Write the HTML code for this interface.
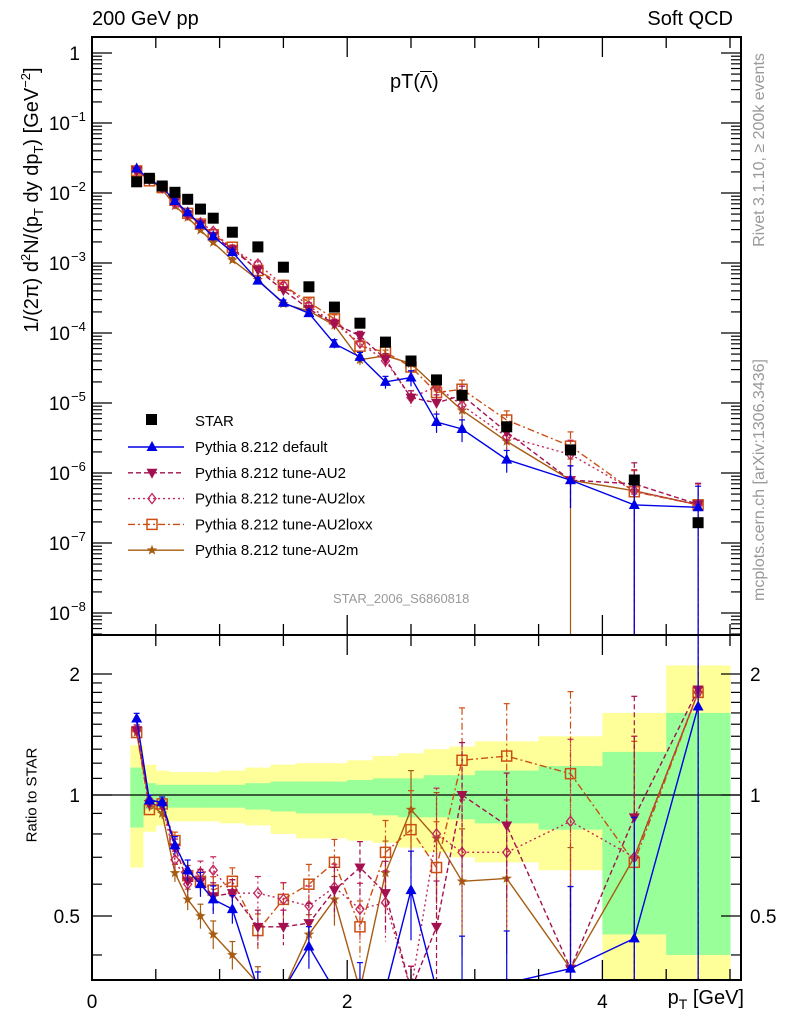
<!DOCTYPE html>
<html><head><meta charset="utf-8"><style>
html,body{margin:0;padding:0;background:#fff;width:786px;height:1024px;overflow:hidden;position:relative;}
svg{display:block;font-family:"Liberation Sans",sans-serif;}
</style></head><body>
<svg id="c" width="786" height="1024" viewBox="0 0 786 1024"></svg>
<script>
const pts=[0.35,0.45,0.55,0.65,0.75,0.85,0.95,1.1,1.3,1.5,1.7,1.9,2.1,2.3,2.5,2.7,2.9,3.25,3.75,4.25,4.75];
const edges=[0.3,0.4,0.5,0.6,0.7,0.8,0.9,1.0,1.2,1.4,1.6,1.8,2.0,2.2,2.4,2.6,2.8,3.0,3.5,4.0,4.5,5.0];
const starLog=[-1.84,-1.79,-1.90,-1.99,-2.09,-2.23,-2.36,-2.56,-2.77,-3.06,-3.34,-3.63,-3.86,-4.13,-4.40,-4.67,-4.89,-5.34,-5.67,-6.10,-6.71];
const rDefault=[1.55,0.97,0.96,0.75,0.65,0.60,0.55,0.52,0.33,0.31,0.42,0.30,0.33,0.27,0.58,0.25,0.33,0.34,0.37,0.44,1.66];
const rAU2=[1.45,0.95,0.94,0.74,0.61,0.61,0.56,0.57,0.47,0.47,0.48,0.58,0.66,0.57,0.30,0.47,1.0,0.84,0.37,0.88,1.83];
const rAU2lox=[1.45,0.97,0.95,0.69,0.60,0.64,0.65,0.57,0.57,0.55,0.53,0.59,0.52,0.54,0.30,0.80,0.72,0.72,0.86,0.70,1.80];
const rAU2loxx=[1.43,0.92,0.95,0.77,0.63,0.61,0.58,0.61,0.46,0.55,0.60,0.68,0.47,0.72,0.82,0.66,1.22,1.25,1.13,0.68,1.80];
const rAU2m=[1.43,0.95,0.90,0.64,0.55,0.50,0.45,0.40,0.34,0.30,0.45,0.55,0.30,0.64,0.92,0.78,0.61,0.62,0.37,0.70,1.80];
const errFrac=[0.03,0.03,0.03,0.05,0.06,0.07,0.08,0.08,0.1,0.1,0.12,0.14,0.16,0.2,0.25,0.3,0.35,0.35,0.6,1,1];
const errAU2m=[0.03,0.03,0.03,0.05,0.06,0.07,0.08,0.08,0.1,0.1,0.12,0.14,0.16,0.2,0.25,0.3,0.35,0.35,1,1,1];
const gUp=[1.17,1.07,1.06,1.06,1.06,1.06,1.06,1.06,1.07,1.08,1.08,1.08,1.09,1.1,1.1,1.12,1.12,1.15,1.18,1.28,1.6];
const gLo=[0.83,0.92,0.93,0.93,0.93,0.93,0.93,0.93,0.92,0.91,0.9,0.9,0.9,0.89,0.88,0.88,0.87,0.85,0.82,0.45,0.4];
const yUp=[1.33,1.19,1.15,1.14,1.14,1.14,1.14,1.15,1.17,1.19,1.2,1.2,1.22,1.25,1.27,1.3,1.32,1.36,1.4,1.6,2.1];
const yLo=[0.66,0.81,0.84,0.86,0.86,0.86,0.86,0.85,0.84,0.8,0.78,0.78,0.77,0.76,0.74,0.72,0.7,0.68,0.65,0.3,0.3];
const xTicks=[0,2,4];
const yTopTicks=[0,-1,-2,-3,-4,-5,-6,-7,-8];
const yRatioTicks=[0.5,1,2];

const L=92,R=741,T=37,M=635,B=980;
const X=v=>L+v*127.6;
const YT=e=>53-70*e;
const YR=r=>795-402*Math.log10(r);
const clampY=(y,a,b)=>Math.max(a,Math.min(b,y));
const NS="http://www.w3.org/2000/svg";
const svg=document.getElementById('c');
function el(tag,attrs,parent){const e=document.createElementNS(NS,tag);for(const k in attrs)e.setAttribute(k,attrs[k]);(parent||svg).appendChild(e);return e;}
function txt(s,x,y,size,anchor,fill,parent){const t=el('text',{x:x,y:y,'font-size':size,'text-anchor':anchor||'start',fill:fill||'#000'},parent);t.textContent=s;return t;}

const defs=el('defs',{});
const c1=el('clipPath',{id:'ct'},defs);el('rect',{x:L,y:T,width:R-L,height:M-T},c1);
const c2=el('clipPath',{id:'cb'},defs);el('rect',{x:L,y:M,width:R-L,height:B-M},c2);

const bands=el('g',{'clip-path':'url(#cb)'});


for(let i=0;i<gUp.length;i++){
  const y1=clampY(YR(yUp[i]),M,B),y2=clampY(YR(yLo[i]),M,B);
  const r=el('rect',{x:X(edges[i]),y:y1,width:X(edges[i+1])-X(edges[i])+0.5,height:y2-y1,fill:'#ffff99'},bands);
  
  
}
for(let i=0;i<gUp.length;i++){
  const y1=clampY(YR(gUp[i]),M,B),y2=clampY(YR(gLo[i]),M,B);
  const r=el('rect',{x:X(edges[i]),y:y1,width:X(edges[i+1])-X(edges[i])+0.5,height:y2-y1,fill:'#99ff99'},bands);
  
  
}
el('line',{x1:L,y1:YR(1),x2:R,y2:YR(1),stroke:'#000','stroke-width':1.2});

const series=[
 {name:'default',r:rDefault,err:errFrac,color:'#0000e6',dash:'',mk:'tri'},
 {name:'au2',r:rAU2,err:errFrac,color:'#a3104f',dash:'5,3',mk:'itri'},
 {name:'au2lox',r:rAU2lox,err:errFrac,color:'#c4275c',dash:'2,3',mk:'dia'},
 {name:'au2loxx',r:rAU2loxx,err:errFrac,color:'#cc5014',dash:'7,3,2,3',mk:'sq'},
 {name:'au2m',r:rAU2m,err:errAU2m,color:'#a65c12',dash:'',mk:'star'}
];
function marker(g,mk,x,y,c){
  let m;
  if(mk==='tri')m=el('polygon',{points:`${x},${y-6} ${x-5.5},${y+4} ${x+5.5},${y+4}`,fill:c},g);
  else if(mk==='itri')m=el('polygon',{points:`${x},${y+6} ${x-5.5},${y-4} ${x+5.5},${y-4}`,fill:c},g);
  else if(mk==='dia')m=el('polygon',{points:`${x},${y-5} ${x-4},${y} ${x},${y+5} ${x+4},${y}`,fill:'none',stroke:c,'stroke-width':1.3},g);
  else if(mk==='sq')m=el('rect',{x:x-5,y:y-5,width:10,height:10,fill:'none',stroke:c,'stroke-width':1.5},g);
  else {let p='';for(let k=0;k<10;k++){const a=-Math.PI/2+k*Math.PI/5,rr=k%2?2.3:5.5;p+=`${x+rr*Math.cos(a)},${y+rr*Math.sin(a)} `;}m=el('polygon',{points:p,fill:c},g);}
  return m;
}
function drawSeries(s,panel){
  const g=el('g',{'clip-path':panel==='top'?'url(#ct)':'url(#cb)'});
  
  
  const ys=[],lo=[],hi=[];
  const top=panel==='top'?T:M,bot=panel==='top'?M:B;
  for(let i=0;i<pts.length;i++){
    const r=s.r[i],f=s.err[i];
    let y,yh,yl;
    if(panel==='top'){
      const v=starLog[i]+Math.log10(r);
      y=YT(v);yh=YT(v+Math.log10(1+f));
      yl=f>=0.99?bot+3:YT(v+Math.log10(1-f));
    }else{
      y=YR(r);yh=YR(r*(1+f));
      yl=f>=0.99?bot+3:YR(r*(1-f));
    }
    ys.push(clampY(y,top-10,bot+10));
    hi.push(clampY(yh,top-3,bot+3));
    lo.push(clampY(yl,top-3,bot+3));
  }
  let d='';pts.forEach((p,i)=>{d+=(i?'L':'M')+X(p)+','+ys[i];});
  el('path',{d:d,fill:'none',stroke:s.color,'stroke-width':1.4,'stroke-dasharray':s.dash},g);
  pts.forEach((p,i)=>{
    const x=X(p);
    el('line',{x1:x,y1:hi[i],x2:x,y2:lo[i],stroke:s.color,'stroke-width':1.2,'stroke-dasharray':s.dash},g);
    el('line',{x1:x-3,y1:hi[i],x2:x+3,y2:hi[i],stroke:s.color,'stroke-width':1.2},g);
    const m=marker(g,s.mk,x,ys[i],s.color);
    
    
  });
}
series.slice().reverse().forEach(s=>{drawSeries(s,'top');drawSeries(s,'bottom');});

const sg=el('g',{'clip-path':'url(#ct)'});


pts.forEach((p,i)=>{
  const m=el('rect',{x:X(p)-5.5,y:YT(starLog[i])-5.5,width:11,height:11,fill:'#000'},sg);
  
  
});

el('rect',{x:L,y:T,width:R-L,height:M-T,fill:'none',stroke:'#000','stroke-width':2});
el('rect',{x:L,y:M,width:R-L,height:B-M,fill:'none',stroke:'#000','stroke-width':2});

for(let v=0;v<=5.01;v+=0.5){
  const major=xTicks.some(t=>Math.abs(t-v)<1e-6);const len=major?20:11;const x=X(v);
  [[T,1],[M,-1],[M,1],[B,-1]].forEach(([y,s])=>el('line',{x1:x,y1:y,x2:x,y2:y+s*len,stroke:'#000','stroke-width':1.3}));
}
xTicks.forEach(v=>{const t=txt(String(v),X(v),1008,19,'middle');});
for(let e=-9;e<=0;e++){
  for(let k=1;k<10;k++){
    const y=YT(e+Math.log10(k));if(y<T||y>M)continue;
    const len=k===1?20:10;
    el('line',{x1:L,y1:y,x2:L+len,y2:y,stroke:'#000','stroke-width':1.2});
    el('line',{x1:R,y1:y,x2:R-len,y2:y,stroke:'#000','stroke-width':1.2});
  }
}
yTopTicks.forEach(e=>{
  const y=YT(e);
  let t;
  if(e===0){t=txt('1',80,y+7,19,'end');}
  else{t=txt('10',70,y+7,19,'end');const s=el('text',{x:71,y:y-2,'font-size':13},svg);s.textContent='−'+(-e);}
  
});
[0.4,0.5,0.6,0.7,0.8,0.9,1,1.1,1.2,1.3,1.4,1.5,1.6,1.7,1.8,1.9,2].forEach(r=>{
  const y=YR(r);const major=yRatioTicks.includes(r);const len=major?20:10;
  el('line',{x1:L,y1:y,x2:L+len,y2:y,stroke:'#000','stroke-width':1.2});
  el('line',{x1:R,y1:y,x2:R-len,y2:y,stroke:'#000','stroke-width':1.2});
});
yRatioTicks.forEach(r=>{
  const a=txt(String(r),80,YR(r)+7,19,'end');
  const b=txt(String(r),750,YR(r)+7,19,'start');
});

const lg=el('g',{});


const lr=el('rect',{x:146,y:414,width:11,height:11,fill:'#000'},lg);

txt('STAR',195,426,15,'start','#000',lg);
const labels=['Pythia 8.212 default','Pythia 8.212 tune-AU2','Pythia 8.212 tune-AU2lox','Pythia 8.212 tune-AU2loxx','Pythia 8.212 tune-AU2m'];
series.forEach((s,i)=>{
  const y=447+i*25.8;
  el('line',{x1:128,y1:y,x2:184,y2:y,stroke:s.color,'stroke-width':1.4,'stroke-dasharray':s.dash},lg);
  marker(lg,s.mk,152,y,s.color);
  const t=txt(labels[i],195,y+5,15,'start','#000',lg);
  
});
</script>
<div style="position:absolute;left:0;top:0;width:786px;height:1024px;overflow:hidden;pointer-events:none;font-family:'Liberation Sans',sans-serif;">
<div style="position:absolute;left:92px;top:8px;font-size:20px;">200 GeV pp</div>
<div style="position:absolute;right:53px;top:8px;font-size:20px;">Soft QCD</div>
<div style="position:absolute;left:390px;top:71px;font-size:20px;">pT(<span style="text-decoration:overline;font-size:18px;">Λ</span>)</div>
<div style="position:absolute;left:333px;top:591px;font-size:13px;color:#999;">STAR_2006_S6860818</div>
<div style="position:absolute;left:760px;top:150px;transform:translate(-50%,-50%) rotate(-90deg);white-space:nowrap;font-size:16px;color:#999;">Rivet 3.1.10, ≥ 200k events</div>
<div style="position:absolute;left:760px;top:480px;transform:translate(-50%,-50%) rotate(-90deg);white-space:nowrap;font-size:16px;color:#999;">mcplots.cern.ch [arXiv:1306.3436]</div>
<div style="position:absolute;left:32px;top:200px;transform:translate(-50%,-50%) rotate(-90deg);white-space:nowrap;font-size:20px;">1/(2π) d<sup style="font-size:13px">2</sup>N/(p<sub style="font-size:13px">T</sub> dy dp<sub style="font-size:13px">T</sub>) [GeV<sup style="font-size:13px">−2</sup>]</div>
<div style="position:absolute;left:32px;top:795px;transform:translate(-50%,-50%) rotate(-90deg);white-space:nowrap;font-size:15px;">Ratio to STAR</div>
<div style="position:absolute;right:42px;top:986px;font-size:20px;line-height:24px;">p<sub style="font-size:14px">T</sub> [GeV]</div>
</div>
</body></html>
